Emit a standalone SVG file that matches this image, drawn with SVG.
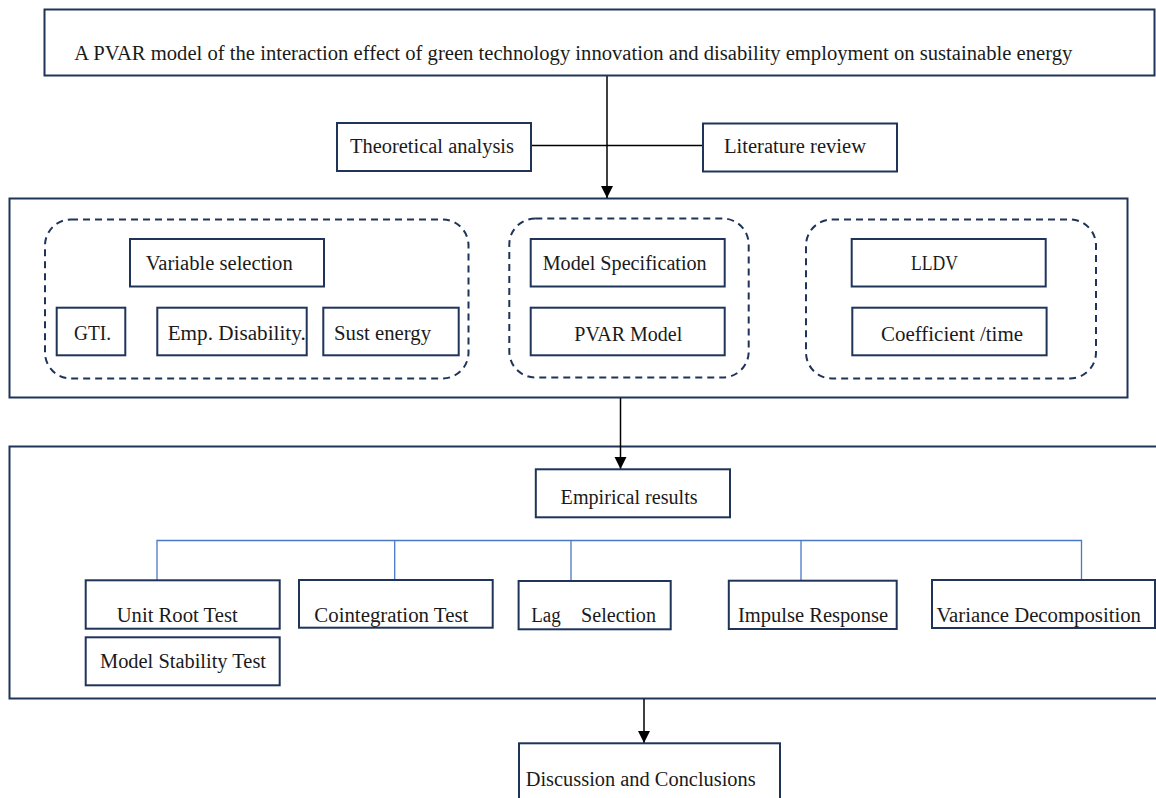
<svg xmlns="http://www.w3.org/2000/svg" width="1156" height="798" viewBox="0 0 1156 798">
<style>
.box{fill:#ffffff;stroke:#1f3459;stroke-width:2}
.outer{fill:none;stroke:#1f3459;stroke-width:2}
.dash{fill:none;stroke:#1f3459;stroke-width:2;stroke-dasharray:7 5}
.t{font-family:"Liberation Serif","Times New Roman",serif;font-size:20px;fill:#1a1a1a}
.ln{fill:none;stroke:#000;stroke-width:1.5}
.bl{fill:none;stroke:#4a78c8;stroke-width:1.3}
</style>
<defs>
<marker id="arr" markerUnits="userSpaceOnUse" markerWidth="14" markerHeight="14" refX="12" refY="6" orient="auto">
<path d="M0,0 L12,6 L0,12 Z" fill="#000"/>
</marker>
</defs>
<rect width="1156" height="798" fill="#ffffff"/>

<g id="section2-frame"><rect class="outer" x="9.5" y="198.5" width="1118" height="199"/></g>
<g id="section3-frame"><rect class="outer" x="9.5" y="446.5" width="1160" height="252"/></g>

<g id="connectors">
<line class="ln" x1="607" y1="76" x2="607" y2="198" marker-end="url(#arr)"/>
<line class="ln" x1="531" y1="145.5" x2="703" y2="145.5"/>
<line class="ln" x1="620.5" y1="398" x2="620.5" y2="469" marker-end="url(#arr)"/>
<line class="ln" x1="644" y1="699" x2="644" y2="743" marker-end="url(#arr)"/>
<path class="bl" d="M157,580 V540.5 H1081.5 V580 M394.7,540.5 V580 M571,540.5 V581 M801,540.5 V580"/>
</g>

<g id="title"><rect class="box" x="44.5" y="9.5" width="1110" height="66"/><text class="t" x="74.3" y="60" textLength="998" lengthAdjust="spacingAndGlyphs">A PVAR model of the interaction effect of green technology innovation and disability employment on sustainable energy</text></g>
<g id="theoretical"><rect class="box" x="337" y="123" width="194" height="48"/><text class="t" x="350" y="153" textLength="164" lengthAdjust="spacingAndGlyphs">Theoretical analysis</text></g>
<g id="literature"><rect class="box" x="703" y="123.5" width="194" height="48"/><text class="t" x="724" y="153" textLength="142" lengthAdjust="spacingAndGlyphs">Literature review</text></g>

<g id="group-variables">
<rect class="dash" x="45" y="219.5" width="423.5" height="159" rx="26" ry="26"/>
<g id="variable-selection"><rect class="box" x="130" y="239" width="194" height="47.5"/><text class="t" x="145.7" y="270" textLength="147" lengthAdjust="spacingAndGlyphs">Variable selection</text></g>
<g id="gti"><rect class="box" x="56.7" y="307.7" width="68.6" height="47.6"/><text class="t" x="74" y="340" textLength="37" lengthAdjust="spacingAndGlyphs">GTI.</text></g>
<g id="emp-disability"><rect class="box" x="157.3" y="307.7" width="149.4" height="47.6"/><text class="t" x="167.7" y="340" textLength="138" lengthAdjust="spacingAndGlyphs">Emp. Disability.</text></g>
<g id="sust-energy"><rect class="box" x="323.3" y="307.7" width="135.4" height="47.6"/><text class="t" x="334" y="340" textLength="97" lengthAdjust="spacingAndGlyphs">Sust energy</text></g>
</g>

<g id="group-model">
<rect class="dash" x="509.3" y="218.5" width="239.4" height="159" rx="26" ry="26"/>
<g id="model-specification"><rect class="box" x="530.7" y="239" width="194" height="47.5"/><text class="t" x="542.7" y="270" textLength="164" lengthAdjust="spacingAndGlyphs">Model Specification</text></g>
<g id="pvar-model"><rect class="box" x="530.7" y="307.7" width="194" height="47.6"/><text class="t" x="574.3" y="340.5" textLength="108" lengthAdjust="spacingAndGlyphs">PVAR Model</text></g>
</g>

<g id="group-lldv">
<rect class="dash" x="806" y="219.5" width="290" height="159" rx="26" ry="26"/>
<g id="lldv"><rect class="box" x="851.7" y="239" width="194" height="47.5"/><text class="t" x="911" y="270" textLength="47" lengthAdjust="spacingAndGlyphs">LLDV</text></g>
<g id="coefficient-time"><rect class="box" x="852.3" y="307.7" width="194.3" height="47.6"/><text class="t" x="881" y="340.5" textLength="142" lengthAdjust="spacingAndGlyphs">Coefficient /time</text></g>
</g>

<g id="empirical-results"><rect class="box" x="535.8" y="469.3" width="194.2" height="48"/><text class="t" x="560.6" y="504" textLength="137" lengthAdjust="spacingAndGlyphs">Empirical results</text></g>
<g id="unit-root"><rect class="box" x="85.7" y="580.3" width="194" height="48.4"/><text class="t" x="116.7" y="621.7" textLength="121" lengthAdjust="spacingAndGlyphs">Unit Root Test</text></g>
<g id="model-stability"><rect class="box" x="85.7" y="637.3" width="194" height="48"/><text class="t" x="100" y="668.3" textLength="166" lengthAdjust="spacingAndGlyphs">Model Stability Test</text></g>
<g id="cointegration"><rect class="box" x="299" y="580" width="193.7" height="47.7"/><text class="t" x="314.3" y="621.7" textLength="154" lengthAdjust="spacingAndGlyphs">Cointegration Test</text></g>
<g id="lag-selection"><rect class="box" x="518.6" y="581" width="152.1" height="48.3"/><text class="t" y="621.7"><tspan x="531.2" textLength="29.5" lengthAdjust="spacingAndGlyphs">Lag</tspan><tspan x="581" textLength="75" lengthAdjust="spacingAndGlyphs">Selection</tspan></text></g>
<g id="impulse-response"><rect class="box" x="728.8" y="580.7" width="167.9" height="48.3"/><text class="t" x="738" y="621.7" textLength="150" lengthAdjust="spacingAndGlyphs">Impulse Response</text></g>
<g id="variance-decomposition"><rect class="box" x="932" y="580" width="223" height="48"/><text class="t" x="936.4" y="621.7" textLength="204.6" lengthAdjust="spacingAndGlyphs">Variance Decomposition</text></g>
<g id="discussion"><rect class="box" x="519" y="743.3" width="261" height="70"/><text class="t" x="525.7" y="786" textLength="230" lengthAdjust="spacingAndGlyphs">Discussion and Conclusions</text></g>
</svg>
